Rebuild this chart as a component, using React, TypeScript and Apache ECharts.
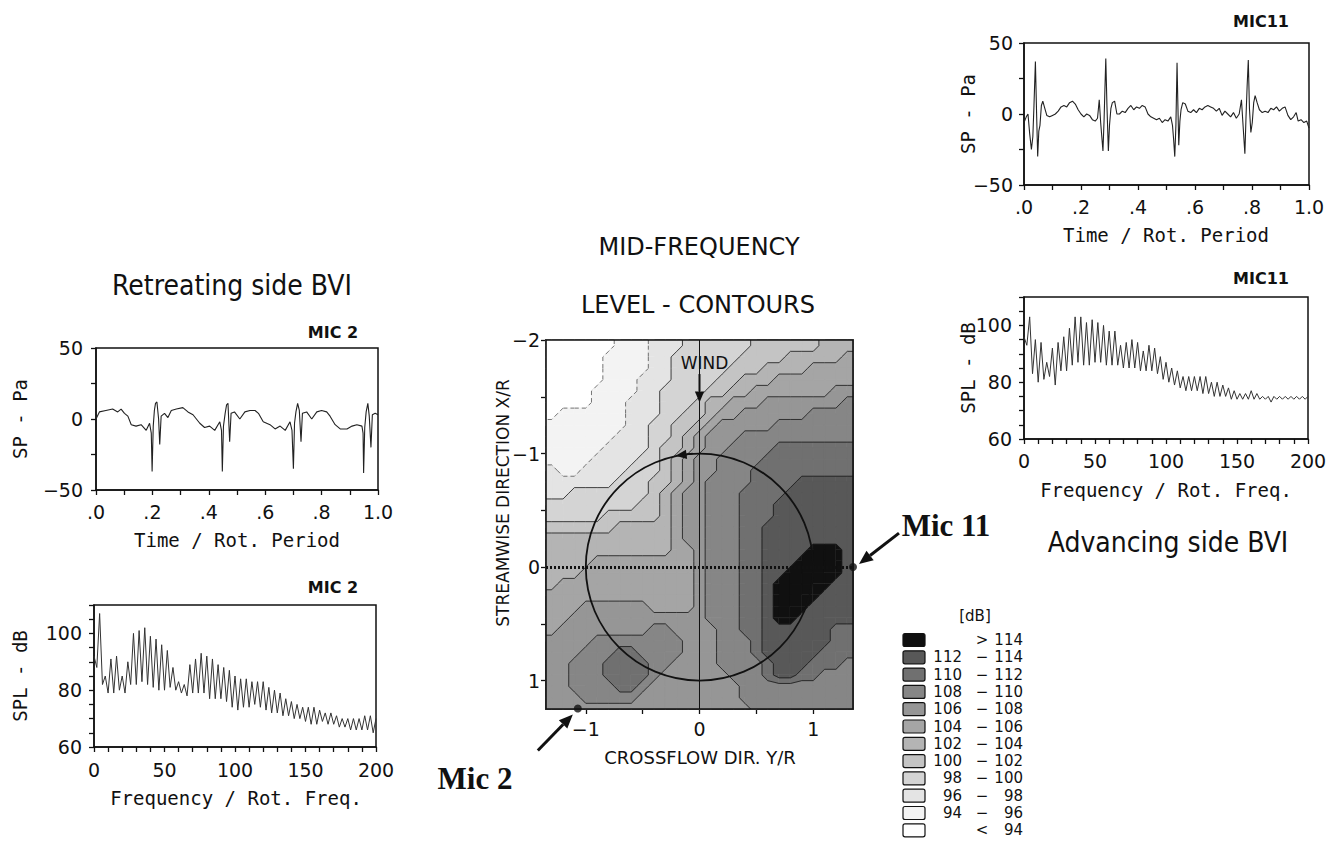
import React, { useEffect, useRef } from 'react';
import * as echarts from 'echarts';

const MONO = '"DejaVu Sans Mono", "Liberation Mono", monospace';
const SANS = '"DejaVu Sans", "Liberation Sans", sans-serif';
const NARROW = '"Liberation Sans Narrow", "DejaVu Sans Condensed", "Liberation Sans", sans-serif';
const SERIF = '"Liberation Serif", "DejaVu Serif", serif';
const INK = '#111111';

// ---------- time histories [t / rot. period, Pa] ----------
const MIC11_TIME: number[][] = [
  [0.000,-6],[0.008,-2],[0.014,0],[0.020,-14],[0.026,-25],[0.031,-16],[0.035,6],[0.040,37],[0.044,2],[0.048,-30],
  [0.052,-12],[0.056,-8],[0.061,6],[0.066,9],[0.073,4],[0.080,-1],[0.090,-2],[0.100,-1],[0.110,0],[0.120,2],
  [0.130,5],[0.140,6],[0.150,5],[0.160,8],[0.170,9],[0.180,7],[0.190,3],[0.200,0],[0.210,-2],[0.220,0],
  [0.230,-1],[0.240,-4],[0.250,-5],[0.258,-3],[0.264,10],[0.269,-6],[0.277,-26],[0.281,-4],[0.284,18],[0.287,39],
  [0.291,6],[0.296,-26],[0.300,-8],[0.305,4],[0.310,8],[0.318,9],[0.326,0],[0.335,0],[0.345,2],[0.355,1],
  [0.365,4],[0.375,6],[0.385,3],[0.395,5],[0.405,4],[0.415,6],[0.425,5],[0.435,0],[0.445,-2],[0.455,-3],
  [0.465,-4],[0.475,-3],[0.485,-6],[0.495,-4],[0.505,-5],[0.515,-2],[0.521,-8],[0.525,-18],[0.529,-30],[0.533,-8],
  [0.537,36],[0.540,6],[0.543,-22],[0.547,-5],[0.551,3],[0.557,8],[0.566,7],[0.575,2],[0.585,1],[0.595,3],
  [0.605,1],[0.615,4],[0.625,3],[0.635,5],[0.645,6],[0.655,5],[0.665,4],[0.675,2],[0.685,4],[0.695,-1],
  [0.705,2],[0.715,0],[0.725,-2],[0.735,1],[0.745,-3],[0.755,0],[0.763,10],[0.768,-6],[0.775,-28],[0.779,-2],
  [0.783,20],[0.787,38],[0.791,4],[0.796,-13],[0.801,-6],[0.806,8],[0.811,13],[0.818,8],[0.826,3],[0.836,1],
  [0.846,2],[0.856,1],[0.866,4],[0.876,3],[0.886,5],[0.896,2],[0.906,4],[0.916,5],[0.926,-1],[0.936,-4],
  [0.946,-2],[0.955,1],[0.962,-5],[0.972,-4],[0.982,-6],[0.992,-5],[1.000,-10],
];

const MIC2_TIME: number[][] = [
  [0.000,0],[0.012,5],[0.035,6],[0.059,7],[0.077,5],[0.089,7],[0.101,4],[0.113,2],[0.125,-4],[0.142,-5],
  [0.160,-4],[0.178,-8],[0.190,-3],[0.196,-10],[0.199,-37],[0.203,-5],[0.207,6],[0.211,11],[0.216,12],[0.222,0],
  [0.226,-18],[0.231,2],[0.243,4],[0.255,1],[0.267,6],[0.285,7],[0.308,8],[0.326,5],[0.344,3],[0.368,-3],
  [0.385,-6],[0.403,-5],[0.421,-8],[0.439,-2],[0.445,-8],[0.448,-37],[0.452,-5],[0.458,4],[0.463,10],[0.468,11],
  [0.474,-16],[0.479,4],[0.491,5],[0.510,0],[0.528,5],[0.546,6],[0.564,6],[0.576,4],[0.593,-2],[0.617,-4],
  [0.635,-7],[0.653,-5],[0.671,-8],[0.688,-2],[0.695,-8],[0.700,-35],[0.704,-3],[0.709,5],[0.715,11],[0.721,6],
  [0.727,-16],[0.732,4],[0.747,5],[0.765,0],[0.783,5],[0.800,6],[0.818,5],[0.830,2],[0.848,-4],[0.866,-7],
  [0.890,-7],[0.908,-5],[0.925,-4],[0.943,-5],[0.947,-10],[0.949,-38],[0.953,-6],[0.958,5],[0.964,11],[0.969,2],
  [0.975,-20],[0.980,3],[0.990,4],[1.000,3],
];

// ---------- spectra [f / rot. freq, dB] ----------
const MIC11_SPL: number[][] = [
  [0,96],[2,93],[4,103],[6,83],[8,95],[10,80],[12,94],[14,81],[16,87],[18,82],[20,92],[22,79],[24,94],[26,84],
  [28,96],[30,84],[32,99],[34,86],[36,103],[38,87],[40,103],[42,86],[44,101],[46,86],[48,102],[50,87],[52,101],
  [54,87],[56,100],[58,86],[60,98],[62,86],[64,98],[66,86],[68,93],[70,85],[72,94],[74,85],[76,95],[78,85],
  [80,94],[82,84],[84,91],[86,84],[88,93],[90,84],[92,92],[94,83],[96,89],[98,81],[100,87],[102,80],[104,85],
  [106,79],[108,84],[110,78],[112,82],[114,77],[116,82],[118,77],[120,82],[122,77],[124,82],[126,76],[128,82],
  [130,76],[132,80],[134,75],[136,80],[138,75],[140,79],[142,75],[144,78],[146,74],[148,77],[150,74],[152,76],
  [154,74],[156,76],[158,74],[160,77],[162,74],[164,76],[166,74],[168,75],[170,74],[172,75],[174,73],[176,75],
  [178,74],[180,75],[182,74],[184,75],[186,74],[188,75],[190,74],[192,75],[194,74],[196,75],[198,74],[200,75],
];

const MIC2_SPL: number[][] = [
  [0,92],[2,88],[4,107],[6,82],[8,85],[10,79],[12,91],[14,79],[16,92],[18,80],[20,85],[22,79],[24,90],[26,82],
  [28,100],[30,82],[32,101],[34,83],[36,102],[38,82],[40,99],[42,81],[44,98],[46,80],[48,96],[50,80],[52,94],
  [54,81],[56,88],[58,80],[60,83],[62,79],[64,82],[66,78],[68,89],[70,79],[72,91],[74,79],[76,93],[78,79],
  [80,92],[82,77],[84,91],[86,77],[88,89],[90,77],[92,88],[94,76],[96,87],[98,74],[100,85],[102,73],[104,84],
  [106,74],[108,84],[110,74],[112,83],[114,75],[116,83],[118,74],[120,83],[122,73],[124,81],[126,72],[128,80],
  [130,72],[132,79],[134,71],[136,77],[138,71],[140,76],[142,70],[144,75],[146,70],[148,74],[150,69],[152,74],
  [154,68],[156,74],[158,68],[160,73],[162,69],[164,72],[166,68],[168,72],[170,68],[172,71],[174,67],[176,70],
  [178,67],[180,70],[182,66],[184,70],[186,66],[188,70],[190,66],[192,71],[194,66],[196,71],[198,65],[200,70],
];

// ---------- axis ticks / labels ----------
const TIME_TICKS = [0, 0.1, 0.2, 0.3, 0.4, 0.5, 0.6, 0.7, 0.8, 0.9, 1];
const TIME_LABELS = [0, 0.2, 0.4, 0.6, 0.8, 1];
const SP_TICKS = [-50, -25, 0, 25, 50];
const SP_LABELS = [-50, 0, 50];
const FREQ_TICKS = [0, 10, 20, 30, 40, 50, 60, 70, 80, 90, 100, 110, 120, 130, 140, 150, 160, 170, 180, 190, 200];
const FREQ_LABELS = [0, 50, 100, 150, 200];
const SPL_TICKS = [60, 65, 70, 75, 80, 85, 90, 95, 100, 105, 110];
const SPL_LABELS = [60, 80, 100];
const CROSS_TICKS = [-1, -0.5, 0, 0.5, 1];
const CROSS_LABELS = [-1, 0, 1];
const STREAM_TICKS = [-2, -1.5, -1, -0.5, 0, 0.5, 1];
const STREAM_LABELS = [-2, -1, 0, 1];
const CROSS_RANGE = [-1.35, 1.35];
const STREAM_RANGE = [-2, 1.25];

// ---------- level-contour field (band index per sample, 0: <94 ... B: >114) ----------
const CROSS_CENTERS = [-1.3,-1.2,-1.1,-1.0,-0.9,-0.8,-0.7,-0.6,-0.5,-0.4,-0.3,-0.2,-0.1,0,0.1,0.2,0.3,0.4,0.5,0.6,0.7,0.8,0.9,1.0,1.1,1.2,1.3];
const STREAM_CENTERS = [-1.95,-1.85,-1.75,-1.65,-1.55,-1.45,-1.35,-1.25,-1.15,-1.05,-0.95,-0.85,-0.75,-0.65,-0.55,-0.45,-0.35,-0.25,-0.15,-0.05,0.05,0.15,0.25,0.35,0.45,0.55,0.65,0.75,0.85,0.95,1.05,1.15,1.25];
const LEVEL_ROWS = [
  '000000111222333333444444555',
  '000001111223333334444555556',
  '000001111223333344455556666',
  '000001112223333445556666666',
  '000011112233334455666666677',
  '000011122233345566677777778',
  '011111122233445667777778888',
  '111111122334456777778888888',
  '111111222334567778888888888',
  '111112222344567788889999999',
  '111122223345677888899999999',
  '211222233345677888999999999',
  '2222223334456788889999AAAAA',
  '223333333456778889999AAAAAA',
  '33333333445677888999AAAAAAA',
  '33333444445677888999AAAAAAA',
  '4444445555567788899AAAAAAAA',
  '5555555555567788899AAAAAAAA',
  '5555555555566788899AAAABBBA',
  '5555666666666788899AAABBBBA',
  '5556666666666788899AABBBBBA',
  '5666666666666788899ABBBBBAA',
  '6666666666666788899ABBBBAAA',
  '6667777776666788899ABBBAAAA',
  '6677777777777788899ABBAAAAA',
  '6777777778877778899AAAAAA99',
  '7777888888887778889AAAAAA99',
  '7778889988887778889AAAAA999',
  '77888999988777788889AAA9998',
  '77888999987777778889AA99888',
  '778888998777777778888888888',
  '777888887777777778888888888',
  '777777777777777777888888888',
];
const BAND_COLORS = ['#ffffff','#f3f3f3','#e4e4e4','#d4d4d4','#c4c4c4','#b4b4b4','#a5a5a5','#969696','#868686','#707070','#585858','#101010'];
// legend rows, top to bottom: [band, low, sep, high]
const LEGEND_ROWS: [number, string, string, string][] = [
  [11, '', '>', '114'], [10, '112', '\u2212', '114'], [9, '110', '\u2212', '112'], [8, '108', '\u2212', '110'],
  [7, '106', '\u2212', '108'], [6, '104', '\u2212', '106'], [5, '102', '\u2212', '104'], [4, '100', '\u2212', '102'],
  [3, '98', '\u2212', '100'], [2, '96', '\u2212', '98'], [1, '94', '\u2212', '96'], [0, '', '<', '94'],
];
const MIC_POSITIONS = [[1.35, 0], [-1.07, 1.245]];

const minus = (v: number) => (v < 0 ? '\u2212' + Math.abs(v) : String(v));
const timeFmt = (v: number) => (Math.abs(v - 1) < 1e-9 ? '1.0' : '.' + Math.round(v * 10));

// Contour shapes (iso-band polygons and iso-lines) derived from the band grid by marching squares.
type Shape = { pts: number[][]; band: number };
function contourShapes() {
  const vals = LEVEL_ROWS.map((row) => Array.from(row).map((ch) => parseInt(ch, 16)));
  const xs = [CROSS_RANGE[0], ...CROSS_CENTERS, CROSS_RANGE[1]];
  const ys = [STREAM_RANGE[0], ...STREAM_CENTERS];
  const g = [vals[0], ...vals].map((row) => [row[0], ...row, row[row.length - 1]]);
  const fills: Shape[] = [];
  const lines: Shape[] = [];
  for (let r = 0; r < ys.length - 1; r++) {
    for (let c = 0; c < xs.length - 1; c++) {
      const P = [[xs[c], ys[r]], [xs[c + 1], ys[r]], [xs[c + 1], ys[r + 1]], [xs[c], ys[r + 1]]];
      const V = [g[r][c], g[r][c + 1], g[r + 1][c + 1], g[r + 1][c]];
      const lo = Math.min(...V), hi = Math.max(...V);
      fills.push({ pts: P, band: lo });
      for (let k = lo + 1; k <= hi; k++) {
        const t = k - 0.5;
        const pts: number[][] = [];
        const cross: number[][] = [];
        for (let i = 0; i < 4; i++) {
          const j = (i + 1) % 4;
          const a = V[i] >= t, b = V[j] >= t;
          if (a) pts.push(P[i]);
          if (a !== b) {
            const f = (t - V[i]) / (V[j] - V[i]);
            const q = [P[i][0] + f * (P[j][0] - P[i][0]), P[i][1] + f * (P[j][1] - P[i][1])];
            pts.push(q);
            cross.push(q);
          }
        }
        if (pts.length >= 3) fills.push({ pts, band: k });
        if (cross.length === 2) lines.push({ pts: cross, band: k });
        if (cross.length === 4) {
          lines.push({ pts: [cross[0], cross[1]], band: k });
          lines.push({ pts: [cross[2], cross[3]], band: k });
        }
      }
    }
  }
  return { fills, lines };
}

function axis(gridIndex: number, min: number, max: number, ticks: number[], labels: number[], fmt: (v: number) => string, opts: any = {}) {
  return {
    type: 'value', gridIndex, min, max, inverse: !!opts.inverse,
    axisLine: { show: true, onZero: false, lineStyle: { color: INK, width: 1.5 } },
    axisTick: { show: true, inside: false, length: 5, customValues: ticks, lineStyle: { color: INK, width: 1.3 } },
    axisLabel: { show: true, customValues: labels, formatter: fmt, margin: opts.margin ?? 10, color: INK, fontSize: opts.fontSize ?? 19, fontFamily: SANS },
    splitLine: { show: false },
  };
}

const gridBox = { show: true, borderColor: INK, borderWidth: 1.5, backgroundColor: 'transparent' };

function buildOption(): any {
  const { fills, lines } = contourShapes();
  const lineStyle = { color: '#222', width: 1.1 };
  return {
    animation: false,
    backgroundColor: '#ffffff',
    grid: [
      { left: 1024, top: 43, width: 285, height: 142, ...gridBox },
      { left: 1024, top: 297, width: 284, height: 142, ...gridBox },
      { left: 96, top: 348, width: 282, height: 142, ...gridBox },
      { left: 94, top: 605, width: 282, height: 142, ...gridBox },
      { left: 546, top: 340, width: 307, height: 369, ...gridBox },
    ],
    xAxis: [
      axis(0, 0, 1, TIME_TICKS, TIME_LABELS, timeFmt, { margin: 12 }),
      axis(1, 0, 200, FREQ_TICKS, FREQ_LABELS, String, { margin: 12 }),
      axis(2, 0, 1, TIME_TICKS, TIME_LABELS, timeFmt, { margin: 12 }),
      axis(3, 0, 200, FREQ_TICKS, FREQ_LABELS, String, { margin: 13 }),
      axis(4, CROSS_RANGE[0], CROSS_RANGE[1], CROSS_TICKS, CROSS_LABELS, minus, { margin: 10 }),
    ],
    yAxis: [
      axis(0, -50, 50, SP_TICKS, SP_LABELS, minus, { margin: 11 }),
      axis(1, 60, 110, SPL_TICKS, SPL_LABELS, String, { margin: 12 }),
      axis(2, -50, 50, SP_TICKS, SP_LABELS, minus, { margin: 13 }),
      axis(3, 60, 110, SPL_TICKS, SPL_LABELS, String, { margin: 12 }),
      axis(4, STREAM_RANGE[0], STREAM_RANGE[1], STREAM_TICKS, STREAM_LABELS, minus, { inverse: true, margin: 6 }),
    ],
    series: [
      { type: 'line', xAxisIndex: 0, yAxisIndex: 0, data: MIC11_TIME, symbol: 'none', lineStyle, silent: true },
      { type: 'line', xAxisIndex: 1, yAxisIndex: 1, data: MIC11_SPL, symbol: 'none', lineStyle: { color: '#333', width: 1 }, silent: true },
      { type: 'line', xAxisIndex: 2, yAxisIndex: 2, data: MIC2_TIME, symbol: 'none', lineStyle, silent: true },
      { type: 'line', xAxisIndex: 3, yAxisIndex: 3, data: MIC2_SPL, symbol: 'none', lineStyle: { color: '#333', width: 1 }, silent: true },
      {
        type: 'custom', xAxisIndex: 4, yAxisIndex: 4, silent: true, z: 2,
        data: fills.map((f) => [f.pts[0][0], f.pts[0][1]]),
        renderItem: (params: any, api: any) => {
          const f = fills[params.dataIndex];
          const col = BAND_COLORS[f.band];
          return { type: 'polygon', shape: { points: f.pts.map((p) => api.coord(p)) }, style: { fill: col, stroke: col, lineWidth: 1.2, lineJoin: 'round' } };
        },
      },
      {
        type: 'custom', xAxisIndex: 4, yAxisIndex: 4, silent: true, z: 3,
        data: lines.map((l) => [l.pts[0][0], l.pts[0][1]]),
        renderItem: (params: any, api: any) => {
          const l = lines[params.dataIndex];
          return {
            type: 'polyline', shape: { points: l.pts.map((p) => api.coord(p)) },
            style: { stroke: l.band <= 2 ? '#555' : '#1a1a1a', lineWidth: 0.8, fill: null, lineDash: l.band <= 2 ? [4, 3] : null },
          };
        },
      },
      {
        type: 'scatter', xAxisIndex: 4, yAxisIndex: 4, data: MIC_POSITIONS, symbolSize: 8, clip: false, z: 8,
        itemStyle: { color: INK }, silent: true,
        markLine: {
          silent: true, symbol: ['none', 'none'], label: { show: false }, animation: false,
          data: [
            { yAxis: 0, lineStyle: { type: [2, 2], width: 3, color: INK } },
            { xAxis: 0, lineStyle: { type: 'solid', width: 1, color: INK } },
          ],
        },
      },
    ],
  };
}

function txt(text: string, x: number, y: number, size: number, family: string, o: any = {}) {
  const align = o.align || 'center';
  return {
    type: 'text', x, y, rotation: o.rotation || 0, z: 60,
    style: {
      text, x: 0, y: 0, fill: INK, fontSize: size, fontFamily: family, fontWeight: o.weight || 'normal',
      align, verticalAlign: 'middle', textAlign: align, textVerticalAlign: 'middle',
    },
  };
}

function arrow(x1: number, y1: number, x2: number, y2: number, w: number, head: number) {
  const a = Math.atan2(y2 - y1, x2 - x1);
  const bx = x2 - head * Math.cos(a), by = y2 - head * Math.sin(a);
  const nx = -Math.sin(a) * head * 0.42, ny = Math.cos(a) * head * 0.42;
  return [
    { type: 'line', z: 60, shape: { x1, y1, x2: bx, y2: by }, style: { stroke: INK, lineWidth: w } },
    { type: 'polygon', z: 60, shape: { points: [[x2, y2], [bx + nx, by + ny], [bx - nx, by - ny]] }, style: { fill: INK } },
  ];
}

export default function App() {
  const ref = useRef<HTMLDivElement>(null);
  useEffect(() => {
    const chart = echarts.init(ref.current as HTMLDivElement, undefined, { renderer: 'svg' });
    chart.setOption(buildOption());
    const P = (v: number[]) => chart.convertToPixel({ gridIndex: 4 } as any, v) as number[];
    const o = P([0, 0]), ex = P([1, 0]), ey = P([0, 1]);
    const tl = P([CROSS_RANGE[0], STREAM_RANGE[0]]), br = P([CROSS_RANGE[1], STREAM_RANGE[1]]);
    const m11 = P(MIC_POSITIONS[0]), m2 = P(MIC_POSITIONS[1]);
    const windTop = P([0, -1.70]), windTip = P([0, -1.45]), windTxt = P([0.044, -1.8]);
    const rotFrom = P([-0.06, -1.0]), rotTip = P([-0.21, -0.98]);

    const els: any[] = [
      { type: 'rect', z: 55, shape: { x: tl[0], y: tl[1], width: br[0] - tl[0], height: br[1] - tl[1] }, style: { fill: 'none', stroke: INK, lineWidth: 1.6 } },
      { type: 'ellipse', z: 56, shape: { cx: o[0], cy: o[1], rx: Math.abs(ex[0] - o[0]), ry: Math.abs(ey[1] - o[1]) }, style: { fill: 'none', stroke: INK, lineWidth: 1.8 } },
      ...arrow(windTop[0], windTop[1], windTip[0], windTip[1], 2, 11),
      ...arrow(rotFrom[0], rotFrom[1], rotTip[0], rotTip[1], 1.6, 11),
      txt('WIND', windTxt[0], windTxt[1], 17, SANS),
      ...arrow(m11[0] + 46, m11[1] - 34, m11[0] + 6, m11[1] - 3, 3, 14),
      ...arrow(m2[0] - 40, m2[1] + 42, m2[0] - 5, m2[1] + 6, 3, 14),
      txt('Mic 11', 946, 525, 31, SERIF, { weight: 'bold' }),
      txt('Mic 2', 475, 778, 31, SERIF, { weight: 'bold' }),
      txt('MIC11', 1261, 21, 16, SANS, { weight: 'bold' }),
      txt('MIC11', 1261, 278, 16, SANS, { weight: 'bold' }),
      txt('MIC 2', 333, 332, 16, SANS, { weight: 'bold' }),
      txt('MIC 2', 333, 587, 16, SANS, { weight: 'bold' }),
      txt('Retreating side BVI', 232, 285, 28, NARROW),
      txt('Advancing side BVI', 1168, 542, 28, NARROW),
      txt('Time / Rot. Period', 1166, 235, 19, MONO),
      txt('Frequency / Rot. Freq.', 1166, 490, 19, MONO),
      txt('Time / Rot. Period', 237, 540, 19, MONO),
      txt('Frequency / Rot. Freq.', 236, 798, 19, MONO),
      txt('SP - Pa', 968, 114, 19, MONO, { rotation: Math.PI / 2 }),
      txt('SPL - dB', 968, 368, 19, MONO, { rotation: Math.PI / 2 }),
      txt('SP - Pa', 20, 419, 19, MONO, { rotation: Math.PI / 2 }),
      txt('SPL - dB', 20, 676, 19, MONO, { rotation: Math.PI / 2 }),
      txt('MID-FREQUENCY', 699, 247, 24, SANS),
      txt('LEVEL - CONTOURS', 698, 305, 24, SANS),
      txt('CROSSFLOW DIR. Y/R', 700, 757, 18, SANS),
      txt('STREAMWISE DIRECTION X/R', 503, 503, 17, SANS, { rotation: Math.PI / 2 }),
      txt('[dB]', 975, 616, 15, SANS),
    ];
    LEGEND_ROWS.forEach(([band, lo, sep, hi], i) => {
      const cy = 640 + i * 17.3;
      els.push({ type: 'rect', z: 60, shape: { x: 903, y: cy - 6.5, width: 22, height: 13, r: 2 }, style: { fill: BAND_COLORS[band], stroke: INK, lineWidth: 1.2 } });
      if (lo) els.push(txt(lo, 962, cy, 15, SANS, { align: 'right' }));
      els.push(txt(sep, 982, cy, 15, SANS));
      els.push(txt(hi, 1023, cy, 15, SANS, { align: 'right' }));
    });
    chart.setOption({ graphic: els });
    return () => chart.dispose();
  }, []);
  return <div ref={ref} style={{ position: 'absolute', left: 0, top: 0, width: 1335, height: 850, background: '#fff' }} />;
}
